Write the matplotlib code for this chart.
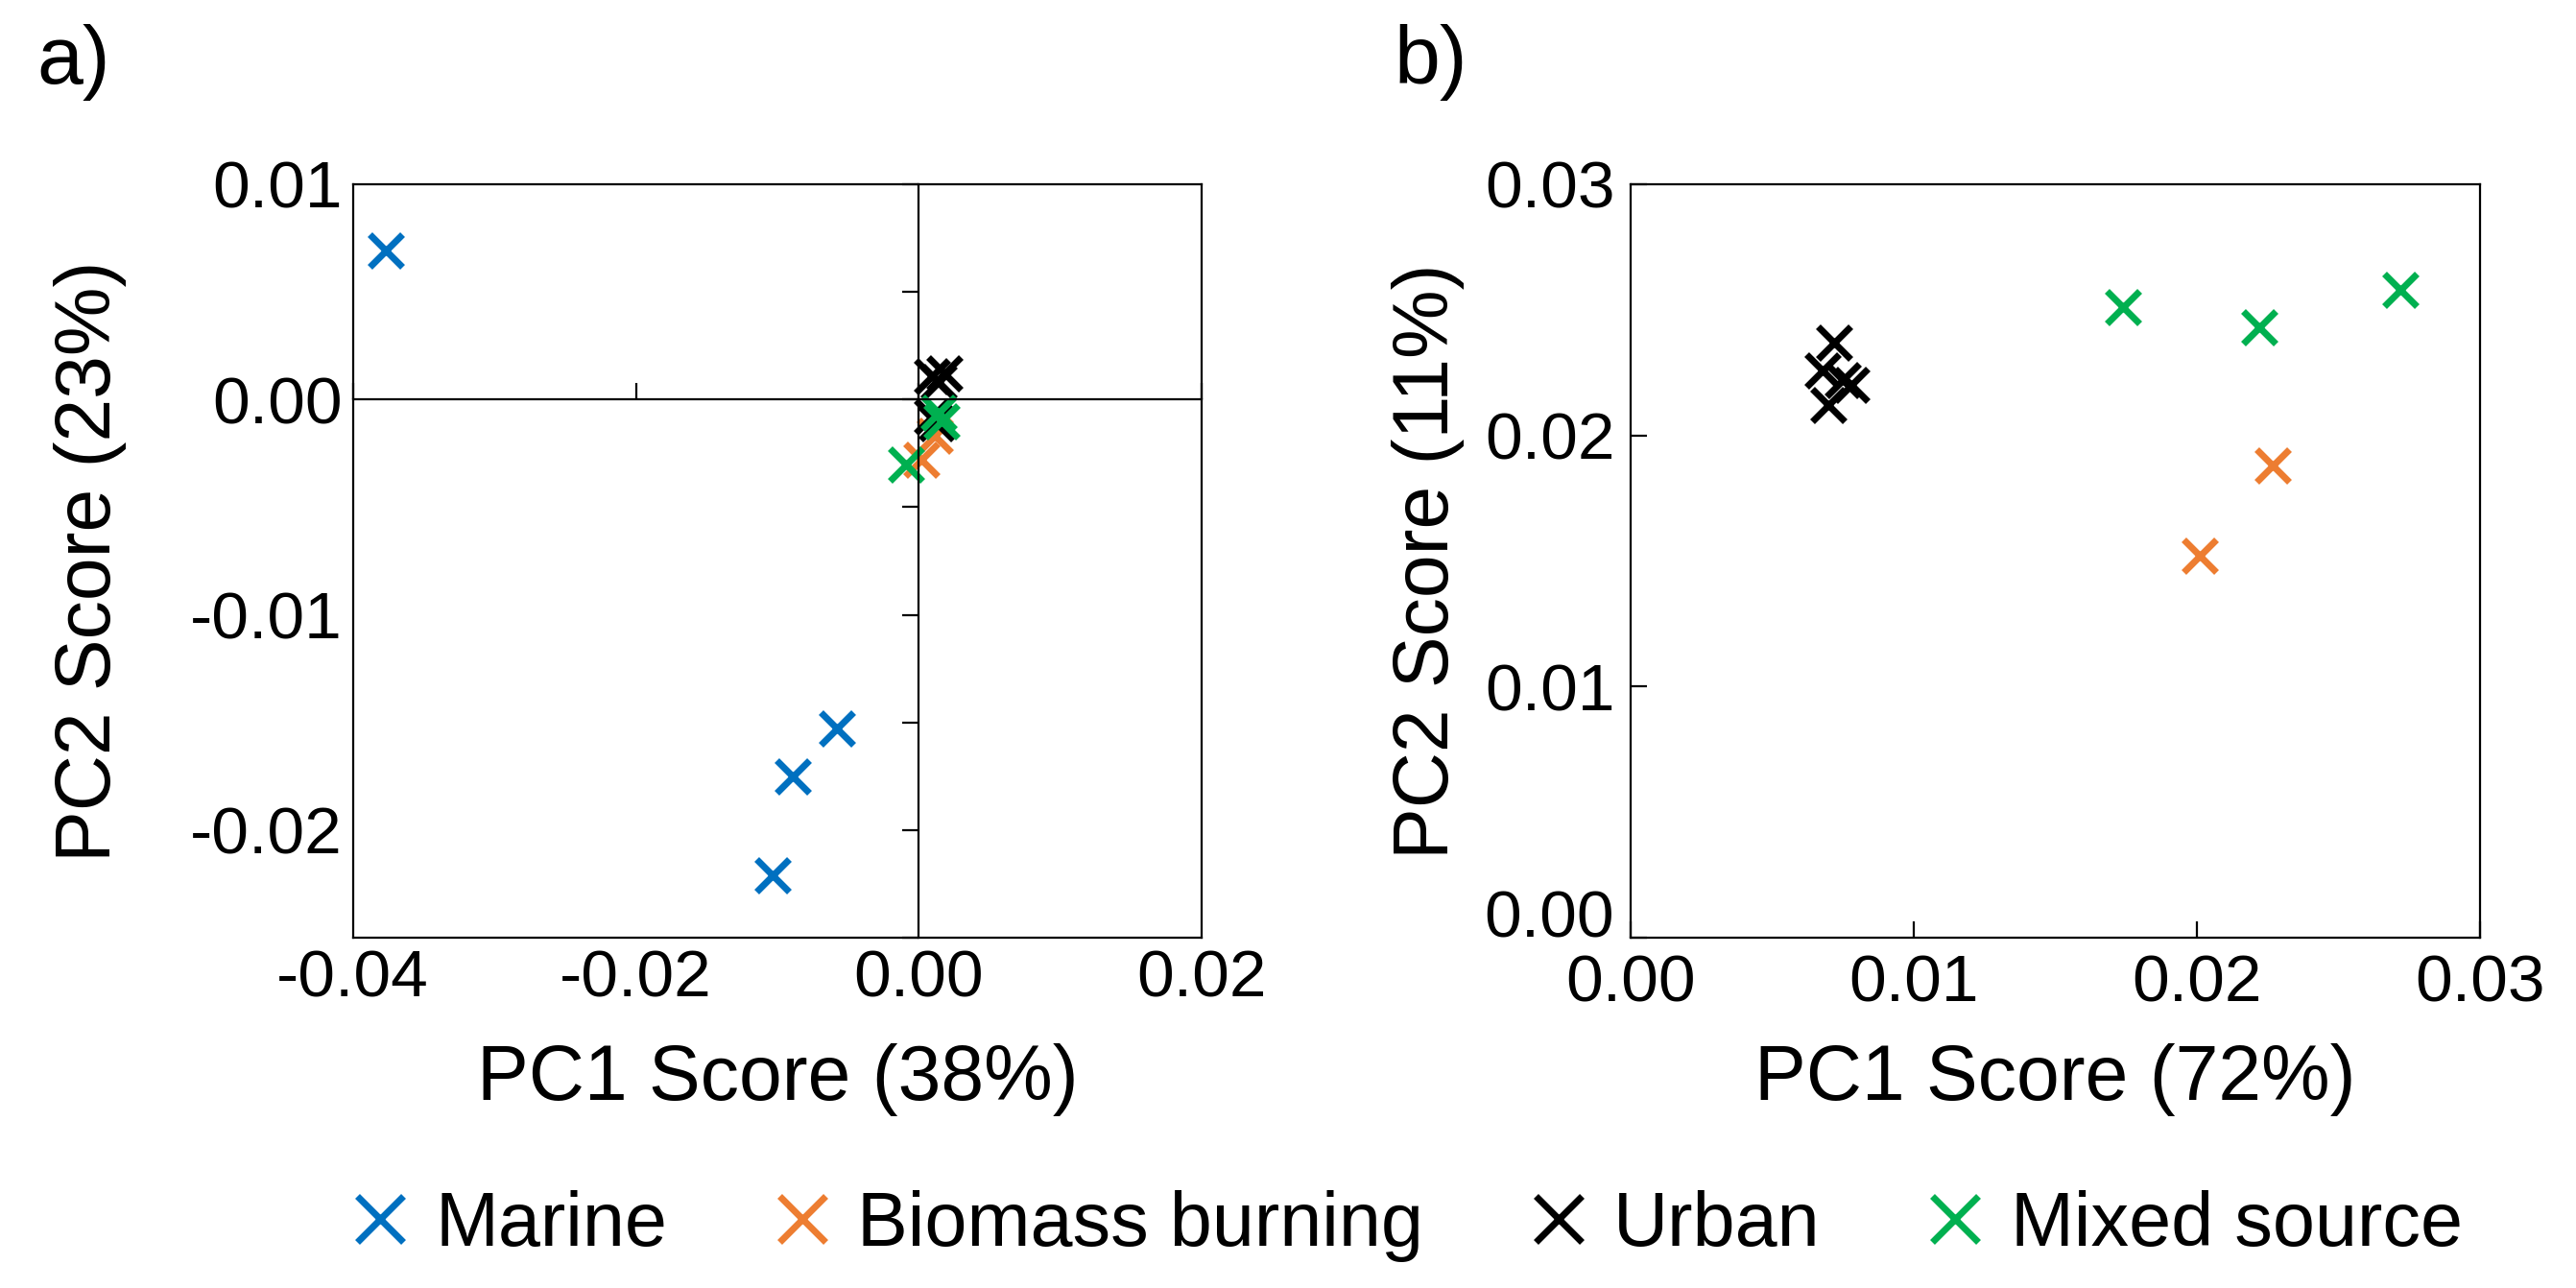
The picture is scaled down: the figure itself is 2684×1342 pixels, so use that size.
import matplotlib
matplotlib.use("Agg")
import matplotlib.pyplot as plt
from matplotlib.ticker import FixedLocator, FormatStrFormatter, MultipleLocator

plt.rcParams['font.family'] = ['Liberation Sans', 'DejaVu Sans']
plt.rcParams['axes.unicode_minus'] = False

# categories and colours
sources = ['Marine', 'Biomass burning', 'Urban', 'Mixed source']
colors = ['#0070C0', '#ED7D31', '#000000', '#00B050']

# panel a) PCA scores
a_marine_x = [-0.0377, -0.0058, -0.0089, -0.0103]
a_marine_y = [0.0069, -0.0153, -0.0175, -0.0221]
a_biomass_x = [0.0002, 0.0011]
a_biomass_y = [-0.0028, -0.0017]
a_urban_x = [0.0009, 0.0018, 0.0014, 0.0013, 0.0009]
a_urban_y = [0.0011, 0.0012, 0.0008, -0.0011, -0.0008]
a_mixed_x = [-0.0009, 0.0016, 0.0014]
a_mixed_y = [-0.0030, -0.0010, -0.0006]

# panel b) PCA scores
b_biomass_x = [0.0201, 0.0227]
b_biomass_y = [0.0152, 0.0188]
b_urban_x = [0.0072, 0.0068, 0.0075, 0.0078, 0.0070]
b_urban_y = [0.0237, 0.0226, 0.0222, 0.0220, 0.0212]
b_mixed_x = [0.0174, 0.0222, 0.0272]
b_mixed_y = [0.0251, 0.0243, 0.0258]

a_xlim = (-0.04, 0.02)
a_ylim = (-0.025, 0.01)
a_xticks = [-0.04, -0.02, 0.00, 0.02]
a_yticks = [-0.02, -0.01, 0.00, 0.01]
b_lim = (0.0, 0.03)
b_ticks = [0.00, 0.01, 0.02, 0.03]

TICK_FS = 25
LABEL_FS = 29
MS = 12.5
MEW = 2.5

fig = plt.figure(figsize=(13.42, 6.71), dpi=200)

# ---- panel a: box with labels underneath, crossing axes on top
rect_a = [0.137, 0.272, 0.3295, 0.585]
box = fig.add_axes(rect_a)
box.set_xlim(a_xlim)
box.set_ylim(a_ylim)
box.xaxis.set_major_locator(FixedLocator(a_xticks))
box.yaxis.set_major_locator(FixedLocator(a_yticks))
box.xaxis.set_major_formatter(FormatStrFormatter('%.2f'))
box.yaxis.set_major_formatter(FormatStrFormatter('%.2f'))
box.tick_params(length=0, labelsize=TICK_FS, pad=4)
for s in box.spines.values():
    s.set_linewidth(0.8)
box.set_xlabel('PC1 Score (38%)', fontsize=LABEL_FS, va='center')
box.set_ylabel('PC2 Score (23%)', fontsize=LABEL_FS, va='center')
box.xaxis.set_label_coords(0.5, -0.189)
box.yaxis.set_label_coords(-0.31, 0.5)

ax = fig.add_axes(rect_a)
ax.patch.set_visible(False)
ax.set_xlim(a_xlim)
ax.set_ylim(a_ylim)
ax.spines['top'].set_visible(False)
ax.spines['right'].set_visible(False)
ax.spines['left'].set_position(('data', 0))
ax.spines['bottom'].set_position(('data', 0))
ax.spines['left'].set_linewidth(0.8)
ax.spines['bottom'].set_linewidth(0.8)
ax.xaxis.set_major_locator(MultipleLocator(0.02))
ax.yaxis.set_major_locator(MultipleLocator(0.005))
ax.tick_params(axis='y', direction='out', length=6, width=0.8, labelleft=False)
ax.tick_params(axis='x', direction='in', length=6, width=0.8, labelbottom=False)

handles = []
for xs, ys, name, c in [(a_marine_x, a_marine_y, sources[0], colors[0]),
                        (a_biomass_x, a_biomass_y, sources[1], colors[1]),
                        (a_urban_x, a_urban_y, sources[2], colors[2]),
                        (a_mixed_x, a_mixed_y, sources[3], colors[3])]:
    h, = ax.plot(xs, ys, 'x', ls='none', ms=MS, mew=MEW, color=c, label=name,
                 clip_on=False)
    handles.append(h)

# ---- panel b: ordinary box axes with inward ticks
bx = fig.add_axes([0.633, 0.272, 0.3296, 0.585])
bx.set_xlim(b_lim)
bx.set_ylim(b_lim)
bx.xaxis.set_major_locator(FixedLocator(b_ticks))
bx.yaxis.set_major_locator(FixedLocator(b_ticks))
bx.xaxis.set_major_formatter(FormatStrFormatter('%.2f'))
bx.yaxis.set_major_formatter(FormatStrFormatter('%.2f'))
bx.tick_params(direction='in', length=6, width=0.8, labelsize=TICK_FS, pad=6)
for s in bx.spines.values():
    s.set_linewidth(0.8)
for xs, ys, c in [(b_biomass_x, b_biomass_y, colors[1]),
                  (b_urban_x, b_urban_y, colors[2]),
                  (b_mixed_x, b_mixed_y, colors[3])]:
    bx.plot(xs, ys, 'x', ls='none', ms=MS, mew=MEW, color=c)
bx.get_yticklabels()[0].set_va('baseline')
bx.set_xlabel('PC1 Score (72%)', fontsize=LABEL_FS, va='center')
bx.set_ylabel('PC2 Score (11%)', fontsize=LABEL_FS, va='center')
bx.xaxis.set_label_coords(0.5, -0.189)
bx.yaxis.set_label_coords(-0.238, 0.5)

fig.text(0.0142, 0.9516, 'a)', fontsize=31, va='center', ha='left')
fig.text(0.541, 0.9516, 'b)', fontsize=31, va='center', ha='left')

fig.legend(handles=handles, loc='center', bbox_to_anchor=(0.547, 0.0484),
           ncol=4, frameon=False, fontsize=28.5, handlelength=0.65,
           handletextpad=0.4, columnspacing=1.45, markerscale=1.4)

fig.savefig('out.png', dpi=200)
